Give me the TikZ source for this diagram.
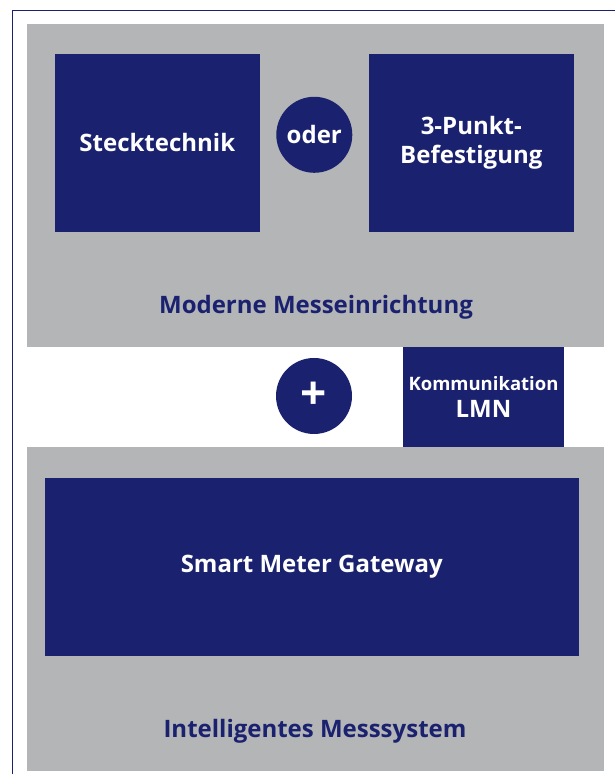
\documentclass[tikz,border=0pt]{standalone}
\usepackage{fontspec}
\setmainfont{Open Sans}
\usetikzlibrary{calc}
\definecolor{mynavy}{RGB}{26,33,110}
\definecolor{mygray}{RGB}{180,181,183}
\tikzset{
	mygraybox/.style={rectangle, fill=mygray, draw=none, inner sep=0mm, minimum width=577pt
				},
	mybluebox/.style={rectangle, fill=mynavy, draw=none, inner sep=0mm, text=white, text centered, align=center,
				font=\bfseries\fontsize{24}{29}\selectfont
				},
	mycircle/.style={circle, fill=mynavy, draw=none, inner sep=0mm, minimum size=76pt, text=white,
				font=\bfseries\fontsize{24}{28}\selectfont
				},
	mylabel/.style={anchor=base, inner sep=0mm, text=mynavy, font=\bfseries\fontsize{24}{28}\selectfont
				},
	myframe/.style={draw=mynavy, line width=1.2pt
				}
	}

\begin{document}
\begin{tikzpicture}[x=1pt, y=1pt]

				\useasboundingbox (0,0) rectangle (615,774);

				\coordinate (origem) at (0,0);

				\draw[myframe] ($(origem) + (12.5,0)$) |- ($(origem) + (615,763.5)$);

				\node[mygraybox, minimum height=323pt] (moderne) at ($(origem) + (315.5,588.5)$) {};
				\node[mygraybox, minimum height=324pt] (ims) at ($(origem) + (315.5,165)$) {};

				\node[mybluebox, minimum width=205pt, minimum height=178pt] (steck) at ($(moderne.north west) + (130.5,-119)$) {Stecktechnik};
				\node[mybluebox, minimum width=205pt, minimum height=178pt] (punkt) at ($(steck.center) + (314,0)$) {3-Punkt-\\Befestigung};
				\node[mycircle] (oder) at ($(steck.center) + (157,8)$) {oder};

				\node[mylabel] (modernet) at ($(moderne.south) + (0.5,34)$) {Moderne Messeinrichtung};

				\node[mycircle, font=\bfseries\fontsize{46}{46}\selectfont] (plus) at ($(origem) + (314,378)$) {+};

				\node[mybluebox, minimum width=161pt, minimum height=100pt, font=\bfseries\fontsize{24}{27}\selectfont] (lmn) at ($(origem) + (483.5,377)$)
				{{\fontsize{18.5}{21}\selectfont Kommunikation}\\LMN};

				\node[mybluebox, minimum width=534pt, minimum height=178pt] (smgw) at ($(ims.north west) + (285,-120)$) {Smart Meter Gateway};

				\node[mylabel] (imst) at ($(ims.south) + (-0.5,34)$) {Intelligentes Messsystem};

	\end{tikzpicture}
\end{document}
